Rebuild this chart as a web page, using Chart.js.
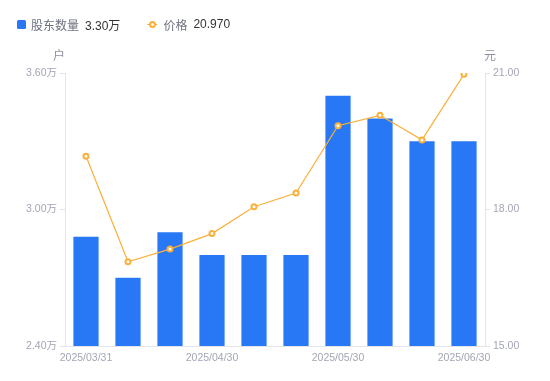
<!DOCTYPE html>
<html>
<head>
<meta charset="utf-8">
<script src="https://cdn.jsdelivr.net/npm/chart.js@4/dist/chart.umd.min.js"></script>
<style>
  html, body { margin: 0; padding: 0; background: #fff; }
  #wrap { position: relative; width: 550px; height: 381px; }
  #legend { position: absolute; left: 17px; top: 15px; height: 18px; display: flex; align-items: center;
    font-family: "Liberation Sans", "Noto Sans CJK SC", sans-serif; font-size: 12px; white-space: nowrap; }
  .sw { display: inline-block; width: 9px; height: 9px; background: #2878f5; border-radius: 1.5px; margin-right: 5px; }
  .nm { color: #6e7280; margin-right: 6px; }
  .vl { color: #333; margin-right: 27px; }
  .lm { position: relative; display: inline-block; width: 10px; height: 9px; margin-right: 6px; }
  .lm:before { content: ""; position: absolute; left: 0; right: 0; top: 4px; height: 1.2px; background: #fbb03b; }
  .lm:after { content: ""; position: absolute; left: 2px; top: 1px; width: 3px; height: 3px; border: 2px solid #fbb03b; border-radius: 50%; background: #fff; }
  canvas { position: absolute; left: 0; top: 0; }
</style>
</head>
<body>
<div id="wrap">
  <canvas id="c" width="550" height="381"></canvas>
  <div id="legend">
    <span class="sw"></span><span class="nm">股东数量</span><span class="vl" id="lv1"></span>
    <span class="lm"></span><span class="nm">价格</span><span class="vl" id="lv2"></span>
  </div>
</div>
<script>
const categories = ["2025/03/31","2025/04/10","2025/04/20","2025/04/30","2025/05/10","2025/05/20","2025/05/30","2025/06/10","2025/06/20","2025/06/30"];
const holders = [2.88, 2.70, 2.90, 2.80, 2.80, 2.80, 3.50, 3.40, 3.30, 3.30]; // 万户
const prices = [19.17, 16.85, 17.13, 17.47, 18.06, 18.36, 19.84, 20.07, 19.53, 20.97]; // 元
const leftTicks = [2.4, 3.0, 3.6];
const rightTicks = [15, 18, 21];
const shownLabelIdx = [0, 3, 6, 9];

document.getElementById('lv1').textContent = holders[holders.length-1].toFixed(2) + '万';
document.getElementById('lv2').textContent = prices[prices.length-1].toFixed(3);

const FONT = '"Liberation Sans", "Noto Sans CJK SC", sans-serif';
const TICK = '#a3a6b4';
const AXIS = '#e3e5ea';

const unitPlugin = {
  id: 'units',
  afterDraw(chart) {
    const ctx = chart.ctx;
    const a = chart.chartArea;
    ctx.save();
    ctx.font = '12px ' + FONT;
    ctx.fillStyle = '#8e92a0';
    ctx.textBaseline = 'middle';
    ctx.textAlign = 'center';
    ctx.fillText('户', chart.scales.y.right - 6, a.top - 16);
    ctx.fillText('元', chart.scales.y1.left + 5, a.top - 16);
    ctx.restore();
  }
};

new Chart(document.getElementById('c'), {
  data: {
    labels: categories,
    datasets: [
      {
        type: 'line', label: '价格', data: prices, yAxisID: 'y1',
        borderColor: '#fbb03b', borderWidth: 1.2, backgroundColor: '#fff',
        pointRadius: 2.5, pointBorderWidth: 2, pointBackgroundColor: '#fff', pointBorderColor: '#fbb03b',
        tension: 0, order: 0
      },
      {
        type: 'bar', label: '股东数量', data: holders, yAxisID: 'y',
        backgroundColor: '#2878f5', borderWidth: 0,
        barPercentage: 0.6, categoryPercentage: 1.0, order: 1
      }
    ]
  },
  options: {
    responsive: false, animation: false,
    layout: { padding: { top: 73, left: 0, right: 0, bottom: 0 } },
    plugins: { legend: { display: false }, tooltip: { enabled: false } },
    scales: {
      x: {
        grid: { display: false, drawTicks: false },
        border: { color: AXIS, width: 1 },
        ticks: {
          autoSkip: false, maxRotation: 0, minRotation: 0, padding: 6,
          color: TICK, font: { family: FONT, size: 10.5 },
          callback: (v, i) => shownLabelIdx.includes(i) ? categories[i] : ''
        },
        afterFit: s => { s.height = 35; }
      },
      y: {
        position: 'left', min: leftTicks[0], max: leftTicks[leftTicks.length-1],
        afterBuildTicks: s => { s.ticks = leftTicks.map(v => ({ value: v })); },
        grid: { drawOnChartArea: false, drawTicks: true, tickLength: 5, color: AXIS },
        border: { color: AXIS, width: 1 },
        ticks: { padding: 3, color: TICK, font: { family: FONT, size: 10.5 }, callback: v => v.toFixed(2) + '万' },
        afterFit: s => { s.width = 65; }
      },
      y1: {
        position: 'right', min: rightTicks[0], max: rightTicks[rightTicks.length-1],
        afterBuildTicks: s => { s.ticks = rightTicks.map(v => ({ value: v })); },
        grid: { drawOnChartArea: false, drawTicks: true, tickLength: 5, color: AXIS },
        border: { color: AXIS, width: 1 },
        ticks: { padding: 3, color: TICK, font: { family: FONT, size: 10.5 }, callback: v => v.toFixed(2) },
        afterFit: s => { s.width = 65; }
      }
    }
  },
  plugins: [unitPlugin]
});
</script>
</body>
</html>
